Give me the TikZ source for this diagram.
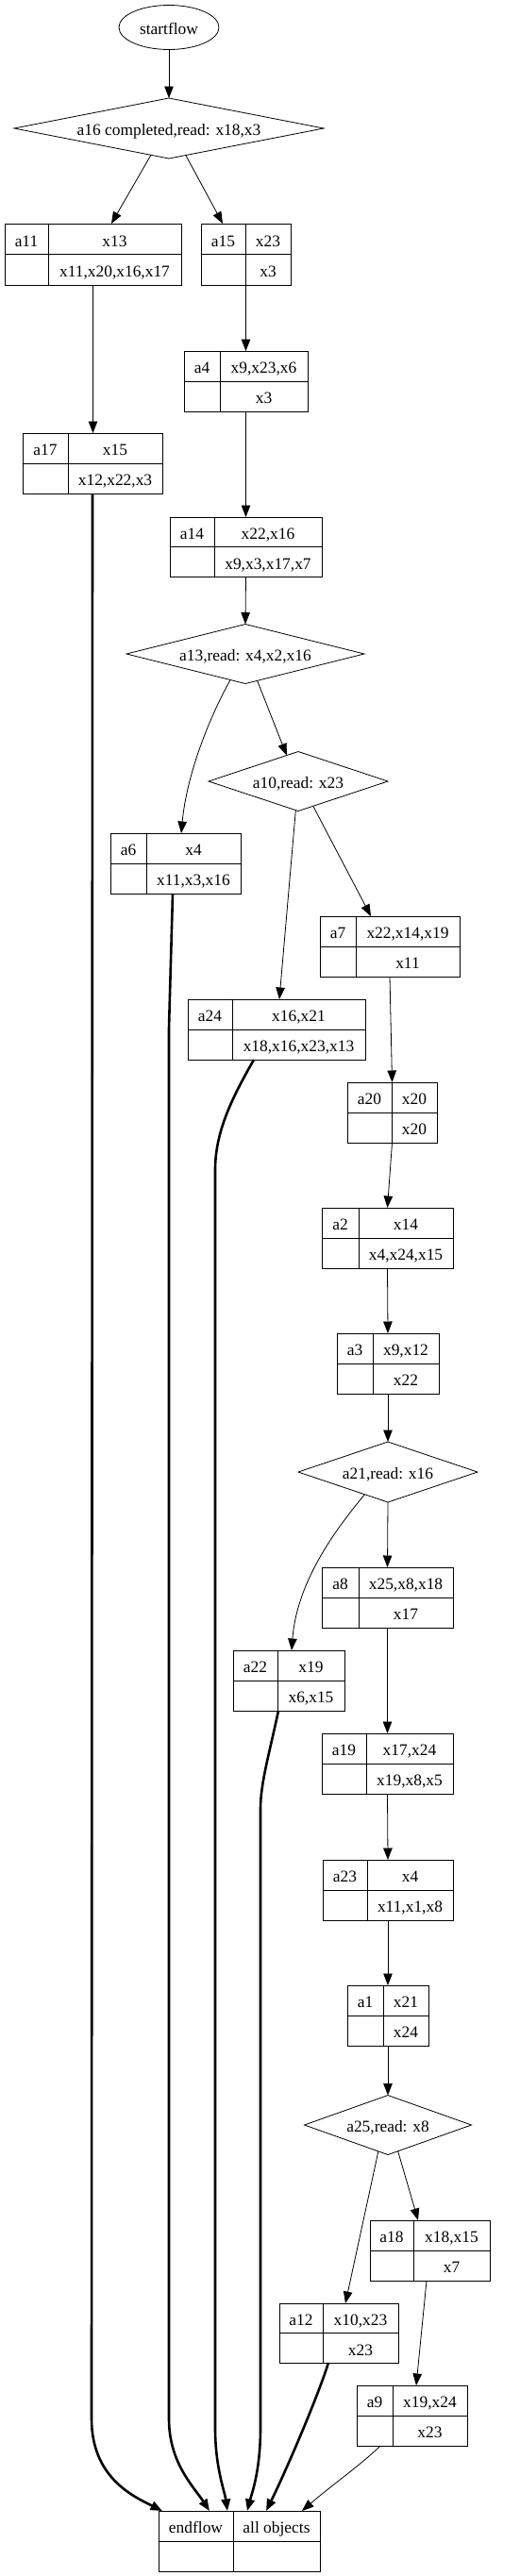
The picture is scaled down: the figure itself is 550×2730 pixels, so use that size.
\documentclass[tikz,border=0pt]{standalone}
\usepackage{fontspec}
\setmainfont{Liberation Serif}
\usetikzlibrary{shapes.geometric,arrows.meta}
\tikzset{
  recbox/.style={draw, rectangle, inner sep=0pt, outer sep=0pt, line width=0.8pt},
  rtext/.style={inner sep=0pt, text height=15.5pt, text depth=0pt},
  dia/.style={draw, diamond, inner sep=0pt, outer sep=0pt, line width=0.8pt, text height=15.5pt, text depth=0pt},
  oval/.style={draw, ellipse, inner sep=0pt, outer sep=0pt, line width=0.8pt, text height=15.5pt, text depth=0pt},
  flow/.style={-{Triangle[length=12.5pt,width=9.5pt]}, line width=0.8pt},
  boldflow/.style={-{Triangle[length=12.5pt,width=9.5pt]}, line width=2.6pt},
}
\newcommand\recnode[9]{%
  \node[recbox, minimum width={(#4)-(#2)}, minimum height={(#5)-(#3)}] (#1) at ({((#2)+(#4))/2},{((#3)+(#5))/2}) {};
  \draw[line width=0.8pt] (#6,#3) -- (#6,#5);
  \draw[line width=0.8pt] (#2,{((#3)+(#5))/2}) -- (#4,{((#3)+(#5))/2});
  \node[rtext] (#1-l) at ({((#2)+(#6))/2},{(3*(#3)+(#5))/4}) {#7};
  \node[rtext] (#1-t) at ({((#6)+(#4))/2},{(3*(#3)+(#5))/4}) {#8};
  \node[rtext] (#1-b) at ({((#6)+(#4))/2},{((#3)+3*(#5))/4}) {#9};
}
\begin{document}
\begin{tikzpicture}[x=1pt, y=-1pt, font=\fontsize{17.4}{20}\selectfont]
\fill[white] (0,0) rectangle (550,2730);
\useasboundingbox (0,0) rectangle (550,2730);

\node[oval, minimum width=106pt, minimum height=47pt] (start) at (179,29) {startflow};
\node[dia, minimum width=328pt, minimum height=64pt, aspect=5.125] (a16) at (179,136) {a16 completed,read: x18,x3};
\node[dia, minimum width=252pt, minimum height=63pt, aspect=4] (a13) at (260,693) {a13,read: x4,x2,x16};
\node[dia, minimum width=190pt, minimum height=63pt, aspect=3.016] (a10) at (316,828) {a10,read: x23};
\node[dia, minimum width=190pt, minimum height=64pt, aspect=2.97] (a21) at (411,1560) {a21,read: x16};
\node[dia, minimum width=177pt, minimum height=63pt, aspect=2.81] (a25) at (411,2252) {a25,read: x8};

\recnode{a11}{5}{237}{192}{302}{51}{a11}{x13}{x11,x20,x16,x17}
\recnode{a15}{213}{237}{308}{302}{260}{a15}{x23}{x3}
\recnode{a17}{24}{459}{172}{523}{72}{a17}{x15}{x12,x22,x3}
\recnode{a4}{195}{372}{326}{436}{233}{a4}{x9,x23,x6}{x3}
\recnode{a14}{180}{548}{341}{611}{227}{a14}{x22,x16}{x9,x3,x17,x7}
\recnode{a6}{117}{883}{255}{947}{155}{a6}{x4}{x11,x3,x16}
\recnode{a7}{339}{971}{487}{1035}{377}{a7}{x22,x14,x19}{x11}
\recnode{a24}{199}{1059}{387}{1123}{246}{a24}{x16,x21}{x18,x16,x23,x13}
\recnode{a20}{368}{1147}{463}{1211}{415}{a20}{x20}{x20}
\recnode{a2}{341}{1280}{480}{1344}{380}{a2}{x14}{x4,x24,x15}
\recnode{a3}{357}{1413}{465}{1477}{395}{a3}{x9,x12}{x22}
\recnode{a8}{341}{1661}{480}{1725}{380}{a8}{x25,x8,x18}{x17}
\recnode{a22}{247}{1749}{365}{1813}{294}{a22}{x19}{x6,x15}
\recnode{a19}{341}{1837}{480}{1901}{388}{a19}{x17,x24}{x19,x8,x5}
\recnode{a23}{342}{1971}{480}{2035}{389}{a23}{x4}{x11,x1,x8}
\recnode{a1}{368}{2104}{454}{2168}{406}{a1}{x21}{x24}
\recnode{a18}{392}{2353}{519}{2417}{438}{a18}{x18,x15}{x7}
\recnode{a12}{296}{2441}{422}{2504}{342}{a12}{x10,x23}{x23}
\recnode{a9}{378}{2528}{495}{2592}{416}{a9}{x19,x24}{x23}
\recnode{endn}{168}{2661}{339}{2725}{247}{endflow}{all objects}{}

% thin edges
\draw[flow] (start.south) -- (a16.north);
\draw[flow] (a16.236) -- ([xshift=19.5pt]a11.north);
\draw[flow] (a16.302) -- ([xshift=-24.5pt]a15.north);
\draw[flow] (a11.south) -- (a11.south |- a17.north);
\draw[flow] (a15.south) -- (a4.north);
\draw[flow] (a4.south) -- (a14.north);
\draw[flow] (a14.south) -- (a13.north);
\draw[flow] (a13.240) .. controls (222,760) and (198,820) .. ([xshift=6pt]a6.north);
\draw[flow] (a13.294) -- (a10.114);
\draw[flow] (a10.265) -- ([xshift=3pt]a24.north);
\draw[flow] (a10.301) -- ([xshift=-20pt]a7.north);
\draw[flow] (a7.south) -- (a20.north);
\draw[flow] (a20.south) -- (a2.north);
\draw[flow] (a2.south) -- (a3.north);
\draw[flow] (a3.south) -- (a21.north);
\draw[flow] (a21.south) -- (a8.north);
\draw[flow] (a21.224) .. controls (365,1610) and (315,1670) .. ([xshift=3pt]a22.north);
\draw[flow] (a8.south) -- (a19.north);
\draw[flow] (a19.south) -- (a23.north);
\draw[flow] (a23.south) -- (a1.north);
\draw[flow] (a1.south) -- (a25.north);
\draw[flow] (a25.250) -- ([xshift=7pt]a12.north);
\draw[flow] (a25.291) -- ([xshift=-12.5pt]a18.north);
\draw[flow] ([xshift=-3.5pt]a18.south) -- ([xshift=4.5pt]a9.north);
\draw[flow] ([xshift=-33.5pt]a9.south) .. controls (385,2610) and (350,2635) .. ([xshift=66.5pt]endn.north);

% bold edges
\draw[boldflow] (a17.south) -- (97,2563) .. controls (97,2625) and (140,2645) .. ([xshift=-81.5pt]endn.north);
\draw[boldflow] ([xshift=-3pt]a6.south) -- (179,1090) -- (179,2563) .. controls (179,2610) and (205,2635) .. ([xshift=-31.5pt]endn.north);
\draw[boldflow] ([xshift=-24pt]a24.south) .. controls (245,1165) and (228,1200) .. (228,1240) -- (228,2573) .. controls (228,2615) and (238,2640) .. ([xshift=-12.5pt]endn.north);
\draw[boldflow] ([xshift=-11pt]a22.south) .. controls (285,1860) and (276,1890) .. (276,1917) -- (276,2573) .. controls (276,2620) and (266,2645) .. ([xshift=8.5pt]endn.north);
\draw[boldflow] ([xshift=-11pt]a12.south) .. controls (335,2545) and (300,2625) .. ([xshift=28.5pt]endn.north);
\end{tikzpicture}
\end{document}
